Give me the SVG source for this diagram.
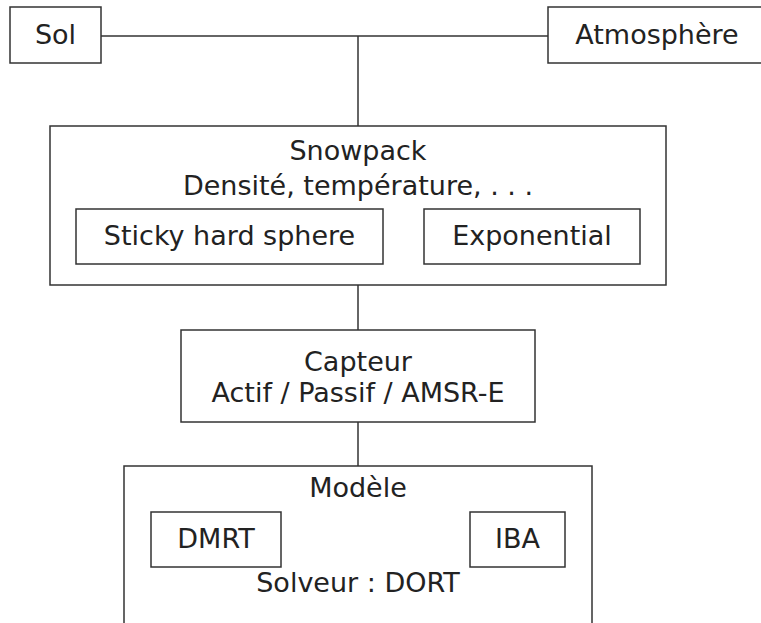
<svg xmlns="http://www.w3.org/2000/svg" width="761" height="623" viewBox="0 0 761 623">
<style>
rect{fill:#fff;stroke:#333;stroke-width:1.5}
line{stroke:#333;stroke-width:1.5}
text{font-family:"DejaVu Sans",sans-serif;font-size:27px;fill:#222;text-anchor:middle}
</style>
<rect x="0" y="0" width="761" height="623" style="stroke:none"/>
<g id="connectors">
<line x1="101" y1="36" x2="548" y2="36"/>
<line x1="358" y1="36" x2="358" y2="126"/>
<line x1="358" y1="285" x2="358" y2="330"/>
<line x1="358" y1="422" x2="358" y2="466"/>
</g>
<g id="sol"><rect x="10" y="7" width="91" height="56"/><text x="55.5" y="44">Sol</text></g>
<g id="atmosphere"><rect x="548" y="7" width="220" height="56"/><text x="657" y="44">Atmosphère</text></g>
<g id="snowpack"><rect x="50" y="126" width="616" height="159"/>
<text x="358" y="160">Snowpack</text>
<text x="358" y="195">Densité, température, . . .</text></g>
<g id="sticky"><rect x="76" y="209" width="307" height="55"/><text x="229.5" y="245">Sticky hard sphere</text></g>
<g id="exponential"><rect x="424" y="209" width="216" height="55"/><text x="532" y="245">Exponential</text></g>
<g id="capteur"><rect x="181" y="330" width="354" height="92"/>
<text x="358" y="371">Capteur</text>
<text x="358" y="402">Actif / Passif / AMSR-E</text></g>
<g id="modele"><rect x="124" y="466" width="468" height="180"/>
<text x="358" y="497">Modèle</text>
<text x="358" y="592">Solveur : DORT</text></g>
<g id="dmrt"><rect x="151" y="512" width="130" height="55"/><text x="216" y="548">DMRT</text></g>
<g id="iba"><rect x="470" y="512" width="95" height="55"/><text x="517.5" y="548">IBA</text></g>
</svg>
